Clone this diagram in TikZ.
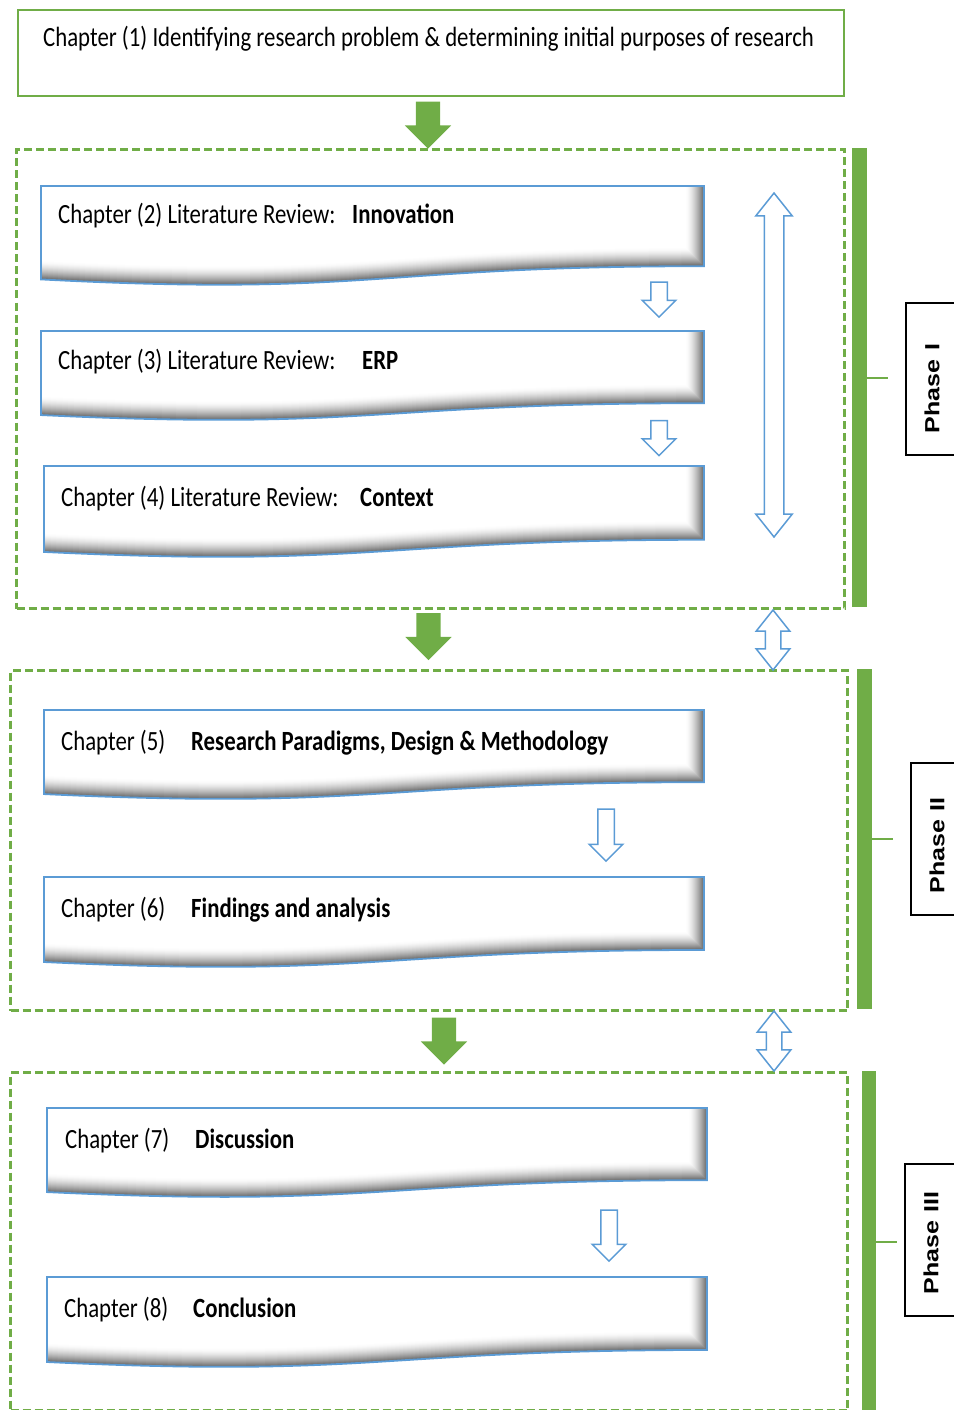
\documentclass[tikz,border=0pt]{standalone}
\usepackage{fontspec}
\setmainfont{Carlito}
\newfontfamily\phasefont{Liberation Sans}
\usetikzlibrary{shapes.arrows}
\definecolor{grn}{RGB}{112,173,71}
\definecolor{blu}{RGB}{91,155,213}
\newcommand\tall[1]{\scalebox{1}[1.22]{#1}}
\newcommand\longer[1]{\scalebox{1.22}[1]{#1}}

\begin{document}
\begin{tikzpicture}[x=1pt, y=-1pt,
    txt/.style={anchor=base west, inner sep=0pt, font=\fontsize{22.8}{26}\selectfont},
    bld/.style={txt, font=\fontsize{22.8}{26}\selectfont\bfseries},
    frame/.style={draw=grn, line width=3pt, dash pattern=on 8pt off 4pt, anchor=north west, inner sep=0pt},
    phase/.style={draw, line width=1.5pt, fill=white, rotate=90, minimum width=152pt, minimum height=52pt,
        inner xsep=22pt, text width=108pt, align=left, font=\phasefont\bfseries\fontsize{20.5}{24}\selectfont},
    gflow/.style={single arrow, fill=grn, rotate=-90, inner xsep=0pt, inner ysep=12pt,
        single arrow head extend=11pt, minimum height=47pt},
    bflow/.style={single arrow, draw=blu, fill=white, line width=1.5pt, rotate=-90, inner xsep=0pt,
        inner ysep=7.5pt, single arrow head extend=8.5pt},
    bswap/.style={double arrow, draw=blu, fill=white, line width=1.5pt, rotate=90, inner xsep=0pt,
        inner ysep=7pt, double arrow head extend=9pt, double arrow tip angle=77}
]
    \useasboundingbox (0,0) rectangle (953,1410);

    % Chapter 1
    \node[draw=grn, line width=2pt, minimum width=826pt, minimum height=86pt, anchor=north west, inner sep=0pt] (c1) at (17,9) {};
    \node[txt] (t1) at (43,47) {\tall{Chapter (1) Identifying research problem \& determining initial purposes of research}};

    % Phase frames
    \node[frame, minimum width=828pt, minimum height=459pt] (ph1) at (15,148) {};
    \node[frame, minimum width=837pt, minimum height=340pt] (ph2) at (9,669) {};
    \node[frame, minimum width=837pt, minimum height=338pt] (ph3) at (9,1071) {};

    % Phase bars
    \fill[grn] (852,148) rectangle (867,607);
    \fill[grn] (857,669) rectangle (872,1009);
    \fill[grn] (862,1071) rectangle (876,1412);
    \draw[grn, line width=1.5pt] (867,378) -- (888,378);
    \draw[grn, line width=1.5pt] (872,839) -- (893,839);
    \draw[grn, line width=1.5pt] (876,1242) -- (897,1242);

    \node[phase] (p1) at (932,379) {\longer{Phase I}};
    \node[phase] (p2) at (937,839) {\longer{Phase II}};
    \node[phase] (p3) at (931,1240) {\longer{Phase III}};

    % Chapter boxes (wave bottom)
    \foreach \nm/\xa/\ya/\xb/\hh in {c2/41/186/704/100, c3/41/331/704/90, c4/44/466/704/92,
        c5/44/710/704/90, c6/44/877/704/91, c7/47/1108/707/90, c8/47/1277/707/91}{
        \pgfmathsetmacro\yr{\ya+0.802*\hh}
        \pgfmathsetmacro\yl{\ya+0.934*\hh}
        \pgfmathsetmacro\yc{\ya+1.107*\hh}
        \pgfmathsetmacro\xm{(\xa+\xb)/2}
        \fill[white] (\xa,\ya) -- (\xb,\ya) -- (\xb,\yr) .. controls (\xm,\yr) and (\xm,\yc) .. (\xa,\yl) -- cycle;
        \begin{scope}
            \clip (\xa,\ya) -- (\xb,\ya) -- (\xb,\yr) .. controls (\xm,\yr) and (\xm,\yc) .. (\xa,\yl) -- cycle;
            \foreach \w in {36,34,...,2}{
                \pgfmathsetmacro\k{62*(1-\w/38)^1.6}
                \draw[line width=\w pt, black!\k] (\xb,\ya-20) -- (\xb,\yr) .. controls (\xm,\yr) and (\xm,\yc) .. (\xa,\yl);
            }
        \end{scope}
        \draw[blu, line width=1.8pt] (\xa,\ya) -- (\xb,\ya) -- (\xb,\yr) .. controls (\xm,\yr) and (\xm,\yc) .. (\xa,\yl) -- cycle;
        \coordinate (\nm) at (\xa,\ya);
    }

    % Texts
    \node[txt] (t2) at (58,223) {\tall{Chapter (2) Literature Review:}};
    \node[bld] (b2) at (352,223) {\tall{Innovation}};
    \node[txt] (t3) at (58,369) {\tall{Chapter (3) Literature Review:}};
    \node[bld] (b3) at (362,369) {\tall{ERP}};
    \node[txt] (t4) at (61,506) {\tall{Chapter (4) Literature Review:}};
    \node[bld] (b4) at (360,506) {\tall{Context}};
    \node[txt] (t5) at (61,750) {\tall{Chapter (5)}};
    \node[bld] (b5) at (191,750) {\tall{Research Paradigms, Design \& Methodology}};
    \node[txt] (t6) at (61,917) {\tall{Chapter (6)}};
    \node[bld] (b6) at (191,917) {\tall{Findings and analysis}};
    \node[txt] (t7) at (65,1148) {\tall{Chapter (7)}};
    \node[bld] (b7) at (195,1148) {\tall{Discussion}};
    \node[txt] (t8) at (64,1317) {\tall{Chapter (8)}};
    \node[bld] (b8) at (193,1317) {\tall{Conclusion}};

    % Flow arrows
    \node[gflow] (g1) at (428,119) {};
    \node[gflow] (g2) at (428.5,630.5) {};
    \node[gflow] (g3) at (444,1035) {};

    \node[bflow, minimum height=35pt] (a23) at (659,295.5) {};
    \node[bflow, minimum height=35pt] (a34) at (659,434) {};
    \node[bflow, minimum height=52pt] (a56) at (606,831) {};
    \node[bflow, minimum height=51pt] (a78) at (609,1231.5) {};

    \node[bswap, minimum height=344pt, inner ysep=9pt, double arrow head extend=8.5pt] (d0) at (774,365) {};
    \node[bswap, minimum height=60pt] (d12) at (773,640) {};
    \node[bswap, minimum height=60pt] (d23) at (774,1041) {};
\end{tikzpicture}
\end{document}
